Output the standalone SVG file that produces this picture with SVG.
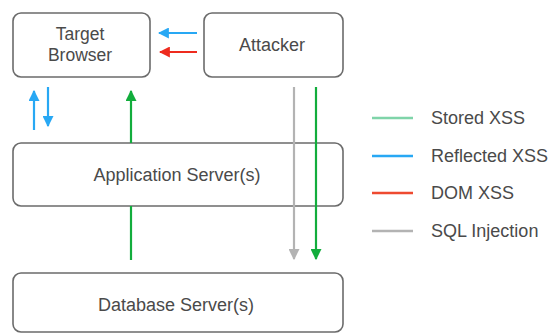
<svg xmlns="http://www.w3.org/2000/svg" width="548" height="334" viewBox="0 0 548 334">
  <style>
    .box { fill: #ffffff; stroke: #6b6b6b; stroke-width: 1.6; }
    .lbl { font-family: "Liberation Sans", Arial, sans-serif; font-size: 18px; fill: #4a4a4a; text-anchor: middle; }
    .lbl.small { font-size: 17.5px; }
    .leg { font-family: "Liberation Sans", Arial, sans-serif; font-size: 18px; fill: #4a4a4a; }
    .stored { stroke: #12ad3c; stroke-width: 2.2; fill: none; }
    .reflected { stroke: #28a8f4; stroke-width: 2.2; fill: none; }
    .dom { stroke: #ee2b1e; stroke-width: 2.2; fill: none; }
    .sql { stroke: #b3b3b3; stroke-width: 2.2; fill: none; }
  </style>
  <defs>
    <marker id="ah-green" viewBox="0 0 10 10" refX="9" refY="5" markerWidth="5" markerHeight="5" orient="auto" markerUnits="strokeWidth">
      <path d="M0,0 L10,5 L0,10 z" fill="#12ad3c"/>
    </marker>
    <marker id="ah-blue" viewBox="0 0 10 10" refX="9" refY="5" markerWidth="5" markerHeight="5" orient="auto" markerUnits="strokeWidth">
      <path d="M0,0 L10,5 L0,10 z" fill="#28a8f4"/>
    </marker>
    <marker id="ah-red" viewBox="0 0 10 10" refX="9" refY="5" markerWidth="5" markerHeight="5" orient="auto" markerUnits="strokeWidth">
      <path d="M0,0 L10,5 L0,10 z" fill="#ee2b1e"/>
    </marker>
    <marker id="ah-gray" viewBox="0 0 10 10" refX="9" refY="5" markerWidth="5" markerHeight="5" orient="auto" markerUnits="strokeWidth">
      <path d="M0,0 L10,5 L0,10 z" fill="#b3b3b3"/>
    </marker>
  </defs>

  <rect width="548" height="334" fill="#ffffff"/>

  <g id="target-browser">
    <rect class="box" x="13" y="13" width="137" height="64" rx="8"/>
    <text class="lbl small" x="80" y="40">Target</text>
    <text class="lbl small" x="80" y="61">Browser</text>
  </g>

  <g id="attacker">
    <rect class="box" x="204" y="13" width="139" height="64" rx="8"/>
    <text class="lbl" x="272" y="51">Attacker</text>
  </g>

  <g id="application-servers">
    <rect class="box" x="13" y="143" width="330" height="63" rx="8"/>
    <text class="lbl" x="177" y="181">Application Server(s)</text>
  </g>

  <g id="database-servers">
    <rect class="box" x="13" y="273" width="330" height="59" rx="8"/>
    <text class="lbl" x="176" y="311">Database Server(s)</text>
  </g>

  <g id="connectors">
    <!-- attacker to browser -->
    <line class="reflected" x1="197" y1="33" x2="159" y2="33" marker-end="url(#ah-blue)"/>
    <line class="dom" x1="197" y1="52" x2="160" y2="52" marker-end="url(#ah-red)"/>
    <!-- browser and app server, reflected round trip -->
    <line class="reflected" x1="34" y1="130" x2="34" y2="91" marker-end="url(#ah-blue)"/>
    <line class="reflected" x1="48" y1="87" x2="48" y2="126" marker-end="url(#ah-blue)"/>
    <!-- stored path: database -> app server -> browser -->
    <line class="stored" x1="131" y1="260" x2="131" y2="206"/>
    <line class="stored" x1="131" y1="143" x2="131" y2="91" marker-end="url(#ah-green)"/>
    <!-- attacker down to database -->
    <line class="sql" x1="294" y1="87" x2="294" y2="259" marker-end="url(#ah-gray)"/>
    <line class="stored" x1="316" y1="87" x2="316" y2="259" marker-end="url(#ah-green)"/>
  </g>

  <g id="legend">
    <line x1="372" y1="118" x2="413" y2="118" stroke="#7fd4a9" stroke-width="2.4"/>
    <text class="leg" x="431" y="124">Stored XSS</text>
    <line x1="372" y1="156" x2="413" y2="156" stroke="#28a8f4" stroke-width="2.4"/>
    <text class="leg" x="431" y="162">Reflected XSS</text>
    <line x1="372" y1="193" x2="413" y2="193" stroke="#ee4a30" stroke-width="2.4"/>
    <text class="leg" x="431" y="199">DOM XSS</text>
    <line x1="372" y1="231" x2="413" y2="231" stroke="#b3b3b3" stroke-width="2.4"/>
    <text class="leg" x="431" y="237">SQL Injection</text>
  </g>
</svg>
